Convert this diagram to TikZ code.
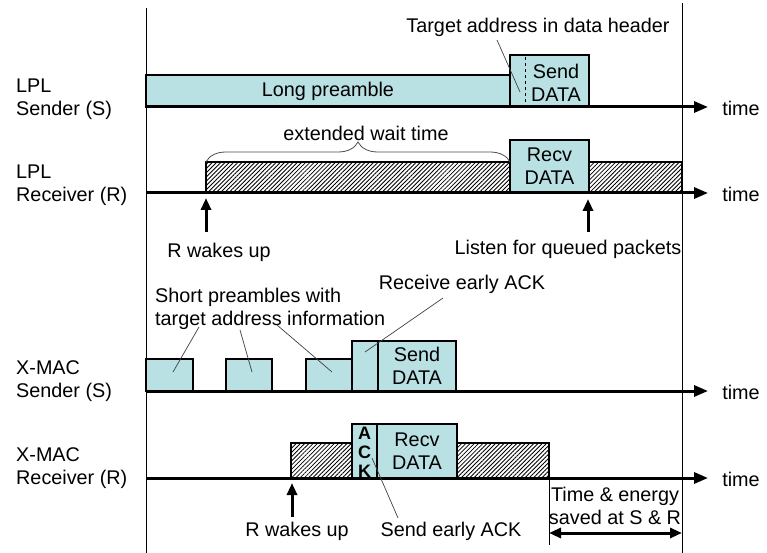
\documentclass[tikz,border=0pt]{standalone}
\usepackage{fontspec}
\setmainfont{Liberation Sans}
\usetikzlibrary{arrows.meta,decorations.pathreplacing,patterns.meta}
\definecolor{boxc}{RGB}{185,224,226}
\begin{document}
\begin{tikzpicture}[x=1pt,y=-1pt,
 font=\fontsize{19.8}{23}\selectfont,
 box/.style={draw,line width=2.2pt,fill=boxc,inner sep=0pt,outer sep=0pt,anchor=south west,align=center},
 hatchbox/.style={draw,line width=2.2pt,inner sep=0pt,outer sep=0pt,anchor=south west,pattern={Lines[angle=45,distance=3pt,line width=0.85pt]}},
 axis/.style={line width=3pt,-{Triangle[length=14pt,width=11pt]}},
 uparr/.style={line width=3pt,-{Triangle[length=12pt,width=10pt]}},
 dblarr/.style={line width=3pt,{Triangle[length=12pt,width=10pt]}-{Triangle[length=12pt,width=10pt]}},
 leader/.style={line width=0.7pt,draw=black!75},
 txt/.style={inner sep=0pt,align=center},
 lab/.style={inner sep=0pt,align=left,anchor=west}]
\useasboundingbox (0,0) rectangle (767,553);

% vertical reference lines
\draw[line width=0.9pt] (146,8) -- (146,553);
\draw[line width=0.9pt] (682,3) -- (682,553);

% ---------- LPL sender ----------
\node[lab] (l1) at (16,99.5) {LPL\\Sender (S)};
\node[box,minimum width=364pt,minimum height=32pt] (lp) at (146,107) {Long preamble};
\node[box,minimum width=79pt,minimum height=52pt] (sd1) at (510,107) {};
\node[txt] (sd1t) at (556,83) {Send\\DATA};
\draw[dashed,line width=1pt] (525,57) -- (525,106);
\coordinate (a0e) at (708,107);
\draw[axis] (146,107) -- (a0e);
\node[txt] (t1) at (741,108) {time};
\node[txt] (tah) at (538,27) {Target address in data header};
\coordinate (tah1) at (497,40);
\coordinate (tah2) at (520,92);
\draw[leader] (tah1) -- (tah2);

% ---------- LPL receiver ----------
\node[lab] (l2) at (16,185.5) {LPL\\Receiver (R)};
\node[hatchbox,minimum width=304pt,minimum height=31pt] (hw1) at (206,193) {};
\node[box,minimum width=79pt,minimum height=53pt] (rd1) at (510,193) {Recv\\DATA};
\node[hatchbox,minimum width=93pt,minimum height=31pt] (hw2) at (589,193) {};
\coordinate (b0e) at (708,193);
\draw[axis] (146,193) -- (b0e);
\node[txt] (t2) at (741,194) {time};
\draw[decorate,decoration={brace,amplitude=20pt},line width=0.8pt,draw=black!70] (hw1.north west) -- (hw1.north east);
\node[txt] (ewt) at (366,133) {extended wait time};
\node[txt] (rw1) at (219,252) {R wakes up};
\coordinate (rw1a) at (206,232);
\coordinate (rw1b) at (206,198);
\draw[uparr] (rw1a) -- (rw1b);
\node[txt] (lq) at (568,249) {Listen for queued packets};
\coordinate (lqa) at (588,232);
\coordinate (lqb) at (588,199);
\draw[uparr] (lqa) -- (lqb);

% ---------- X-MAC sender ----------
\node[lab] (l3) at (16,381.5) {X-MAC\\Sender (S)};
\node[box,minimum width=47pt,minimum height=32pt] (sp1) at (146,391) {};
\node[box,minimum width=46pt,minimum height=32pt] (sp2) at (226,391) {};
\node[box,minimum width=46pt,minimum height=32pt] (sp3) at (306,391) {};
\node[box,minimum width=26pt,minimum height=50pt] (ra) at (352,391) {};
\node[box,minimum width=78pt,minimum height=50pt] (sd2) at (378,391) {Send\\DATA};
\coordinate (c0e) at (708,391);
\draw[axis] (146,391) -- (c0e);
\node[txt] (t3) at (741,392) {time};
\node[lab] (spt) at (155,309) {Short preambles with\\target address information};
\coordinate (sl1a) at (199,327); \coordinate (sl1b) at (173,372);
\coordinate (sl2a) at (240,330); \coordinate (sl2b) at (252,372);
\coordinate (sl3a) at (277,325); \coordinate (sl3b) at (332,372);
\draw[leader] (sl1a) -- (sl1b);
\draw[leader] (sl2a) -- (sl2b);
\draw[leader] (sl3a) -- (sl3b);
\node[txt] (rea) at (462,284) {Receive early ACK};
\coordinate (rl1) at (443,298); \coordinate (rl2) at (365,352);
\draw[leader] (rl1) -- (rl2);

% ---------- X-MAC receiver ----------
\node[lab] (l4) at (16,468) {X-MAC\\Receiver (R)};
\node[hatchbox,minimum width=61pt,minimum height=35pt] (hx1) at (291,478) {};
\node[box,minimum width=25pt,minimum height=54pt] (ack) at (352,478) {};
\node[txt,font=\bfseries\fontsize{18}{19}\selectfont] (ackt) at (364.5,452) {A\\C\\K};
\node[box,minimum width=80pt,minimum height=54pt] (rd2) at (377,478) {Recv\\DATA};
\node[hatchbox,minimum width=92pt,minimum height=35pt] (hx2) at (457,478) {};
\coordinate (d0e) at (708,478);
\draw[axis] (146,478) -- (d0e);
\node[txt] (t4) at (741,479) {time};
\node[txt] (rw2) at (297,531) {R wakes up};
\coordinate (rw2a) at (292,517);
\coordinate (rw2b) at (292,483);
\draw[uparr] (rw2a) -- (rw2b);
\node[txt] (sea) at (451,531) {Send early ACK};
\coordinate (sla) at (398,518); \coordinate (slb) at (372,458);
\draw[leader] (sla) -- (slb);
\node[txt] (tes) at (615,506) {Time \& energy\\saved at S \& R};
\draw[line width=0.9pt] (549,479) -- (549,545);
\coordinate (dla) at (549,533);
\coordinate (dlb) at (682,533);
\draw[dblarr] (dla) -- (dlb);
\end{tikzpicture}
\end{document}
